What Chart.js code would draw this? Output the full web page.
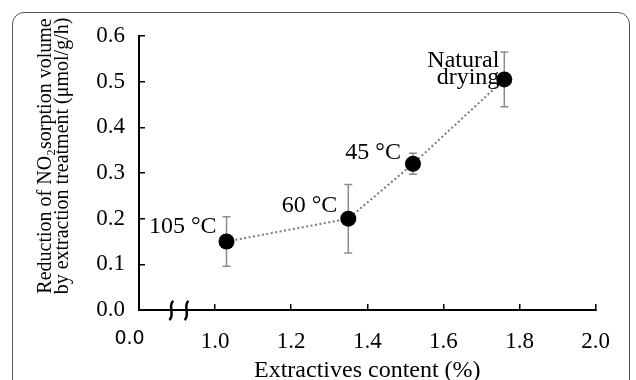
<!DOCTYPE html>
<html>
<head>
<meta charset="utf-8">
<script src="https://cdn.jsdelivr.net/npm/chart.js@4.4.1/dist/chart.umd.min.js"></script>
<style>
    html, body { margin: 0; padding: 0; background: #fff; overflow: hidden; }
    #wrap { position: relative; width: 636px; height: 380px; }
    #frame {
        position: absolute; left: 12px; top: 12px; width: 616px; height: 420px;
        border: 1px solid #555; border-radius: 12px; pointer-events: none;
    }
    canvas { position: absolute; left: 0; top: 0; }
</style>
</head>
<body>
<div id="wrap">
    <canvas id="scatterChart" width="636" height="380"></canvas>
    <div id="frame"></div>
</div>
<script>
// extractives content (%) and reduction of NO2 sorption (umol/g/h)
const xValues = [1.03, 1.35, 1.52, 1.76];
const yValues = [0.15, 0.20, 0.32, 0.505];
const yErrors = [0.054, 0.075, 0.023, 0.06];
const pointLabels = [['105 °C'], ['60 °C'], ['45 °C'], ['Natural', 'drying']];
const xTicks = [0.8, 1.0, 1.2, 1.4, 1.6, 1.8, 2.0];
const xTickLabels = ['0.0\u2003', '1.0', '1.2', '1.4', '1.6', '1.8', '2.0'];
const yTitleLines = ['Reduction of NO₂sorption volume', 'by extraction treatment (μmol/g/h)'];
const xTitle = 'Extractives content (%)';

const serif = "'Liberation Serif', 'Times New Roman', serif";

// where each text label sits relative to its point (dx, dy of right edge / centre)
const labelOffsets = [[-10, -15], [-11, -13], [-12, -11], [-5, -19]];

const errorBars = {
    id: 'errorBars',
    beforeDatasetsDraw(chart) {
        const {ctx, scales: {x, y}} = chart;
        ctx.save();
        ctx.strokeStyle = '#8c8c8c';
        ctx.lineWidth = 1.5;
        xValues.forEach((xv, i) => {
            const px = x.getPixelForValue(xv);
            const top = y.getPixelForValue(yValues[i] + yErrors[i]);
            const bot = y.getPixelForValue(yValues[i] - yErrors[i]);
            ctx.beginPath();
            ctx.moveTo(px, top); ctx.lineTo(px, bot);
            ctx.moveTo(px - 4, top); ctx.lineTo(px + 4, top);
            ctx.moveTo(px - 4, bot); ctx.lineTo(px + 4, bot);
            ctx.stroke();
        });
        ctx.restore();
    }
};

const pointText = {
    id: 'pointText',
    afterDatasetsDraw(chart) {
        const {ctx, scales: {x, y}} = chart;
        ctx.save();
        ctx.fillStyle = '#000';
        ctx.font = '24px ' + serif;
        ctx.textAlign = 'right';
        ctx.textBaseline = 'middle';
        pointLabels.forEach((lines, i) => {
            const px = x.getPixelForValue(xValues[i]) + labelOffsets[i][0];
            const py = y.getPixelForValue(yValues[i]) + labelOffsets[i][1];
            lines.forEach((t, k) => ctx.fillText(t, px, py + k * 17));
        });
        ctx.restore();
    }
};

const axisExtras = {
    id: 'axisExtras',
    afterDraw(chart) {
        const {ctx, chartArea, scales: {x}} = chart;
        ctx.save();
        // axis break marks
        ctx.strokeStyle = '#000';
        ctx.lineWidth = 2.5;
        [0.885, 0.925].forEach(v => {
            const bx = x.getPixelForValue(v);
            const by = chartArea.bottom;
            ctx.beginPath();
            ctx.moveTo(bx + 2, by - 9);
            ctx.bezierCurveTo(bx - 4, by - 5, bx + 4, by + 5, bx - 2, by + 10);
            ctx.stroke();
        });
        // y axis title, two lines
        ctx.fillStyle = '#000';
        ctx.font = '20px ' + serif;
        ctx.textAlign = 'center';
        ctx.textBaseline = 'middle';
        ctx.translate(46, 156);
        ctx.rotate(-Math.PI / 2);
        yTitleLines.forEach((t, k) => ctx.fillText(t, 0, k * 17));
        ctx.restore();
    }
};

var ctx = document.getElementById('scatterChart').getContext('2d');
var myChart = new Chart(ctx, {
    type: 'scatter',
    data: {
        datasets: [{
            data: xValues.map((v, i) => ({x: v, y: yValues[i]})),
            showLine: true,
            borderColor: '#7a7a7a',
            borderWidth: 2,
            borderDash: [2, 2.5],
            pointRadius: 8,
            pointHoverRadius: 8,
            pointBackgroundColor: '#000',
            pointBorderColor: '#000',
            pointBorderWidth: 0
        }]
    },
    options: {
        responsive: false,
        animation: false,
        layout: { padding: { left: 0, top: 36, right: 36, bottom: 0 } },
        plugins: {
            legend: { display: false },
            tooltip: { enabled: false }
        },
        scales: {
            x: {
                type: 'linear',
                min: 0.8,
                max: 2.0,
                afterFit: (scale) => { scale.height = 70; },
                afterBuildTicks: (scale) => { scale.ticks = xTicks.map(v => ({value: v})); },
                border: { color: '#000', width: 2 },
                grid: { drawOnChartArea: false, tickLength: -6, color: '#000', lineWidth: 1.5 },
                ticks: {
                    padding: 26,
                    color: '#000',
                    maxRotation: 0,
                    font: (c) => c.index === 0
                        ? { family: "'DejaVu Sans', sans-serif", size: 19, lineHeight: 1 }
                        : { family: serif, size: 23, lineHeight: 1 },
                    callback: (v, i) => xTickLabels[i]
                },
                title: {
                    display: true,
                    text: xTitle,
                    color: '#000',
                    font: { family: serif, size: 24, lineHeight: 0.75 },
                    padding: { top: 0, bottom: 0 }
                }
            },
            y: {
                min: 0,
                max: 0.6,
                afterFit: (scale) => { scale.width = 139; },
                border: { color: '#000', width: 2 },
                grid: { drawOnChartArea: false, tickLength: -6, color: '#000', lineWidth: 1.5 },
                ticks: {
                    stepSize: 0.1,
                    padding: 20,
                    color: '#000',
                    font: { family: serif, size: 23, lineHeight: 1 },
                    callback: (v) => v.toFixed(1)
                }
            }
        }
    },
    plugins: [errorBars, pointText, axisExtras]
});
</script>
</body>
</html>
